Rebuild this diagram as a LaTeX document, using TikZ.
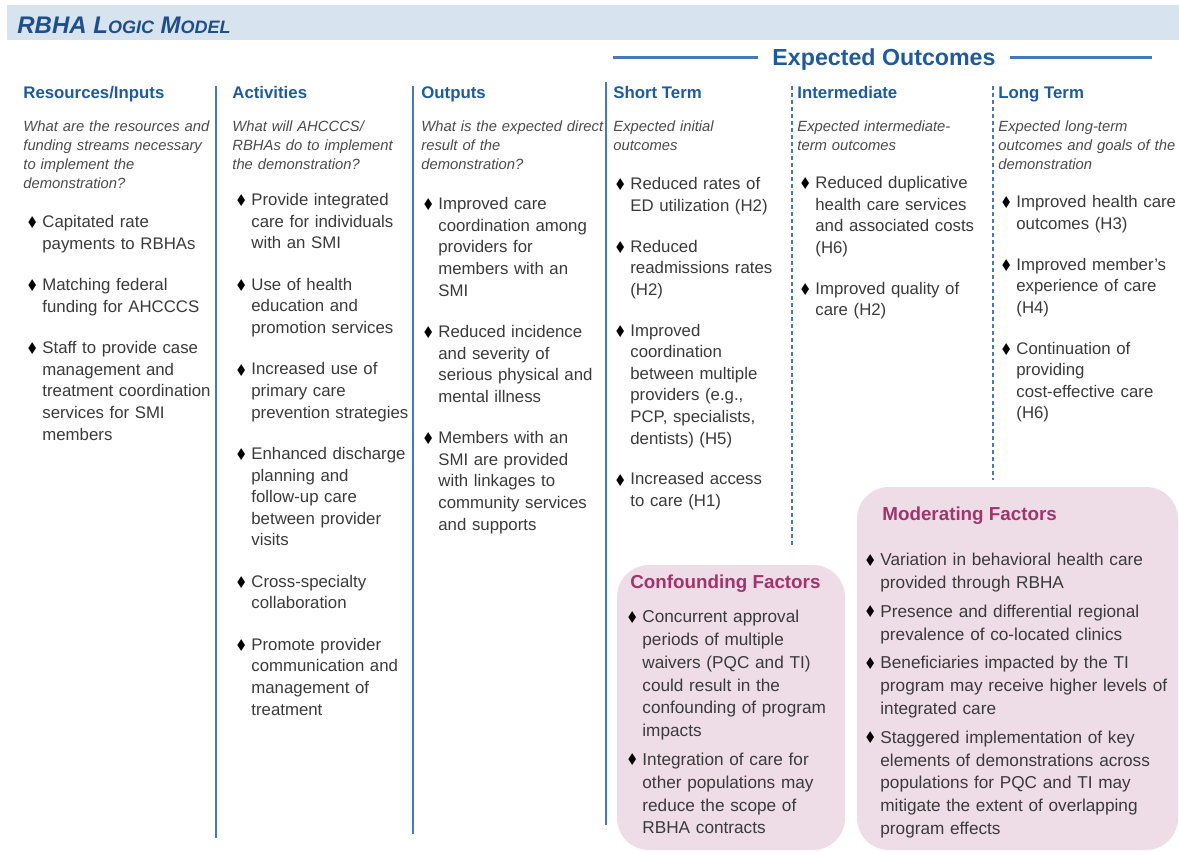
\documentclass[tikz,border=0pt]{standalone}
\usepackage{fontspec}
\setmainfont{Liberation Sans}
\newfontfamily\symfont{DejaVu Sans}
\usetikzlibrary{positioning}

\definecolor{bannerbg}{HTML}{D7E3EE}
\definecolor{titleblue}{HTML}{1F4E8C}
\definecolor{headblue}{HTML}{1E5B9C}
\definecolor{ruleblue}{HTML}{4479BC}
\definecolor{asktext}{HTML}{4A4A4A}
\definecolor{itemtext}{HTML}{3A3A3A}
\definecolor{factorbg}{HTML}{EEDDE7}
\definecolor{factorhead}{HTML}{A2336D}

\newcommand{\diam}{\raisebox{-0.6pt}{\scalebox{0.8}[0.95]{\symfont\fontsize{8.6}{9}\selectfont ♦}}}

\begin{document}
\begin{tikzpicture}[x=0.5pt, y=-0.5pt,
	head/.style={anchor=base west, inner sep=0pt, text=headblue,
		font=\fontsize{8.4}{10}\selectfont\bfseries, execute at begin node=\strut},
	ask/.style={inner sep=0pt, align=left, text width=110pt, text=asktext,
		font=\fontsize{7.4}{9.5}\selectfont\itshape,
		execute at begin node=\strut, execute at end node=\strut},
	item/.style={inner sep=0pt, align=left, text width=95pt, text=itemtext,
		font=\fontsize{8.4}{10.8}\selectfont,
		execute at begin node=\strut, execute at end node=\strut,
		label={[anchor=north east, inner sep=0pt, xshift=-1.6pt, text=black,
			font=\fontsize{8.4}{10.8}\selectfont]north west:\strut\diam}},
	fitem/.style={item, text width=160pt, font=\fontsize{8.6}{11.4}\selectfont},
	fhead/.style={anchor=base west, inner sep=0pt, text=factorhead,
		font=\fontsize{9.4}{11}\selectfont\bfseries, execute at begin node=\strut},
	rule/.style={ruleblue, line width=1pt},
	dashrule/.style={ruleblue, line width=0.6pt, dash pattern=on 2pt off 1.5pt},
	factor/.style={fill=factorbg, rounded corners=16pt}]
	\useasboundingbox (0,0) rectangle (1179,852);
	
	% banner
	\fill[bannerbg] (7,5) rectangle (1179,40);
	\node[anchor=base west, inner sep=0pt, text=titleblue,
		font=\bfseries\itshape\fontsize{12}{14}\selectfont] (title) at (17,33)
		{RBHA L{\fontsize{9}{14}\selectfont OGIC} M{\fontsize{9}{14}\selectfont ODEL}};
	
	% expected outcomes
	\node[anchor=base, inner sep=7pt, text=headblue,
		font=\fontsize{11.6}{13}\selectfont\bfseries] (outc) at (884,65) {Expected Outcomes};
	\coordinate (eol) at (613,57);
	\coordinate (eor) at (1152,57);
	\draw[ruleblue, line width=1.5pt] (eol) -- (eol -| outc.west);
	\draw[ruleblue, line width=1.5pt] (outc.east |- eor) -- (eor);
	
	% factor boxes
	\path[factor] (617,565) rectangle (845,850);
	\path[factor] (857,487) rectangle (1178,850);
	
	% column rules
	\draw[rule] (216,86) -- (216,838);
	\draw[rule] (413,86) -- (413,834);
	\draw[rule] (606,82) -- (606,825);
	\draw[dashrule] (792,86) -- (792,545);
	\draw[dashrule] (993,86) -- (993,480);
	
	% resources
	\node[head] (hres) at (23,98) {Resources/Inputs};
	\node[ask, below right=6.5pt and 0pt of hres.south west] (qres) {What are the resources and\\funding streams necessary\\to implement the\\demonstration?};
	\node[item, below right=9pt and 9.5pt of qres.south west] (res1) {Capitated rate\\payments to RBHAs};
	\node[item, below right=9.5pt and 0pt of res1.south west] (res2) {Matching federal\\funding for AHCCCS};
	\node[item, below right=9.5pt and 0pt of res2.south west] (res3) {Staff to provide case\\management and\\treatment coordination\\services for SMI\\members};
	
	% activities
	\node[head] (hact) at (232,98) {Activities};
	\node[ask, below right=6.5pt and 0pt of hact.south west] (qact) {What will AHCCCS/\\RBHAs do to implement\\the demonstration?};
	\node[item, below right=7.5pt and 9.5pt of qact.south west] (act1) {Provide integrated\\care for individuals\\with an SMI};
	\node[item, below right=9.5pt and 0pt of act1.south west] (act2) {Use of health\\education and\\promotion services};
	\node[item, below right=9.5pt and 0pt of act2.south west] (act3) {Increased use of\\primary care\\prevention strategies};
	\node[item, below right=9.5pt and 0pt of act3.south west] (act4) {Enhanced discharge\\planning and\\follow-up care\\between provider\\visits};
	\node[item, below right=9.5pt and 0pt of act4.south west] (act5) {Cross-specialty\\collaboration};
	\node[item, below right=9.5pt and 0pt of act5.south west] (act6) {Promote provider\\communication and\\management of\\treatment};
	
	% outputs
	\node[head] (hout) at (421,98) {Outputs};
	\node[ask, below right=6.5pt and 0pt of hout.south west] (qout) {What is the expected direct\\result of the\\demonstration?};
	\node[item, below right=9.5pt and 8.5pt of qout.south west] (out1) {Improved care\\coordination among\\providers for\\members with an\\SMI};
	\node[item, below right=9.5pt and 0pt of out1.south west] (out2) {Reduced incidence\\and severity of\\serious physical and\\mental illness};
	\node[item, below right=9.5pt and 0pt of out2.south west] (out3) {Members with an\\SMI are provided\\with linkages to\\community services\\and supports};
	
	% short term
	\node[head] (hshort) at (613,98) {Short Term};
	\node[ask, below right=6.5pt and 0pt of hshort.south west] (qshort) {Expected initial\\outcomes};
	\node[item, below right=9pt and 8.5pt of qshort.south west] (short1) {Reduced rates of\\ED utilization (H2)};
	\node[item, below right=9.2pt and 0pt of short1.south west] (short2) {Reduced\\readmissions rates\\(H2)};
	\node[item, below right=9.2pt and 0pt of short2.south west] (short3) {Improved\\coordination\\between multiple\\providers (e.g.,\\PCP, specialists,\\dentists) (H5)};
	\node[item, below right=9.2pt and 0pt of short3.south west] (short4) {Increased access\\to care (H1)};
	
	% intermediate
	\node[head] (hmid) at (797,98) {Intermediate};
	\node[ask, below right=6.5pt and 0pt of hmid.south west] (qmid) {Expected intermediate-\\term outcomes};
	\node[item, below right=8.5pt and 9pt of qmid.south west] (mid1) {Reduced duplicative\\health care services\\and associated costs\\(H6)};
	\node[item, below right=9.2pt and 0pt of mid1.south west] (mid2) {Improved quality of\\care (H2)};
	
	% long term
	\node[head] (hlong) at (998,98) {Long Term};
	\node[ask, below right=6.5pt and 0pt of hlong.south west] (qlong) {Expected long-term\\outcomes and goals of the\\demonstration};
	\node[item, below right=8.5pt and 9pt of qlong.south west] (long1) {Improved health care\\outcomes (H3)};
	\node[item, below right=9.2pt and 0pt of long1.south west] (long2) {Improved member's\\experience of care\\(H4)};
	\node[item, below right=9.2pt and 0pt of long2.south west] (long3) {Continuation of\\providing\\cost-effective care\\(H6)};
	
	% confounding factors
	\node[fhead] (hconf) at (630,588) {Confounding Factors};
	\node[fitem, below right=5.7pt and 6pt of hconf.south west] (conf1) {Concurrent approval\\periods of multiple\\waivers (PQC and TI)\\could result in the\\confounding of program\\impacts};
	\node[fitem, below right=2.6pt and 0pt of conf1.south west] (conf2) {Integration of care for\\other populations may\\reduce the scope of\\RBHA contracts};
	
	% moderating factors
	\node[fhead] (hmod) at (882,520) {Moderating Factors};
	\node[fitem, below right=11.2pt and -1pt of hmod.south west] (mod1) {Variation in behavioral health care\\provided through RBHA};
	\node[fitem, below right=2.6pt and 0pt of mod1.south west] (mod2) {Presence and differential regional\\prevalence of co-located clinics};
	\node[fitem, below right=2.6pt and 0pt of mod2.south west] (mod3) {Beneficiaries impacted by the TI\\program may receive higher levels of\\integrated care};
	\node[fitem, below right=2.6pt and 0pt of mod3.south west] (mod4) {Staggered implementation of key\\elements of demonstrations across\\populations for PQC and TI may\\mitigate the extent of overlapping\\program effects};
\end{tikzpicture}
\end{document}
